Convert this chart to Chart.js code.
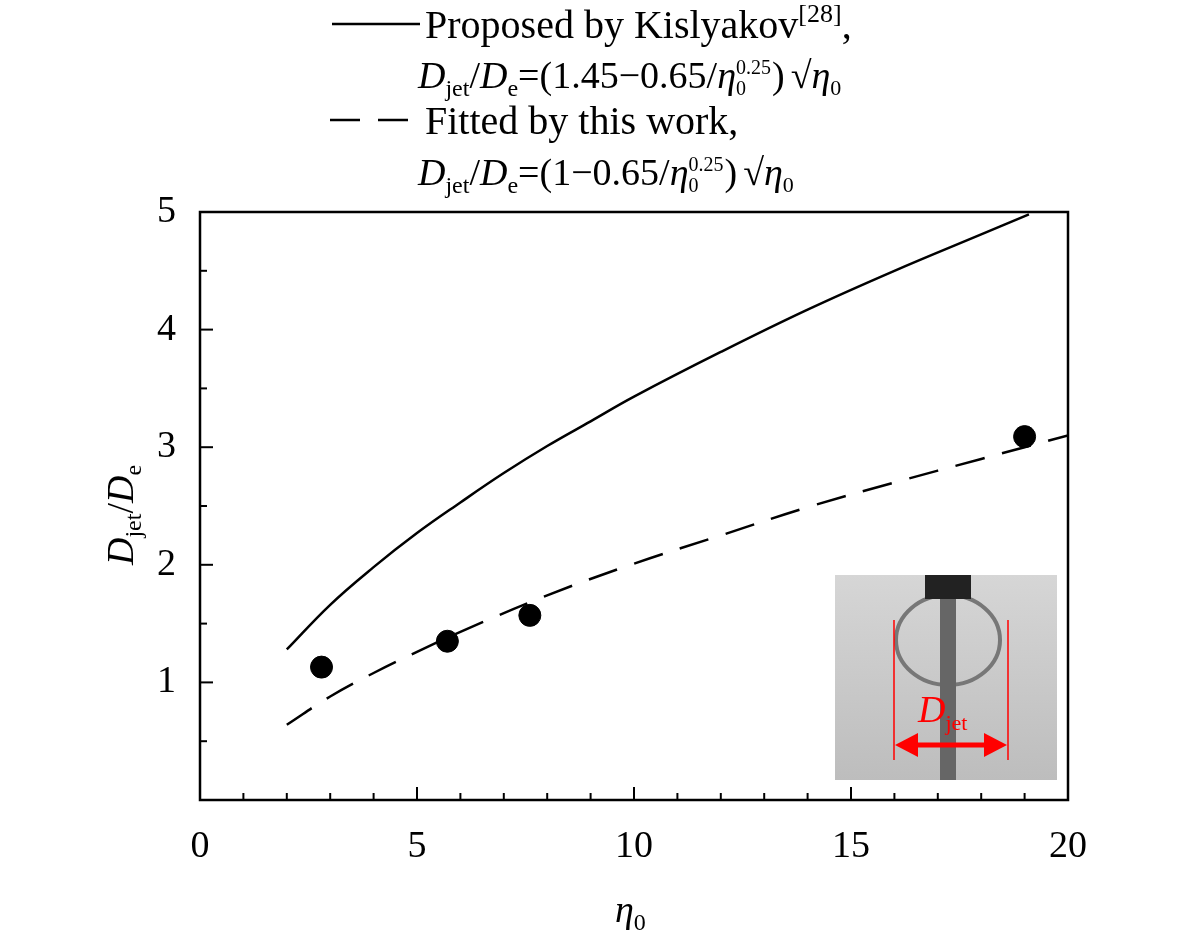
<!DOCTYPE html>
<html><head><meta charset="utf-8">
<script src="https://cdn.jsdelivr.net/npm/chart.js@4.4.0/dist/chart.umd.min.js"></script>
<style>html,body{margin:0;background:#fff}#wrap{width:1181px;height:938px}</style>
</head><body><div id="wrap"><canvas id="c"></canvas></div>
<script>
// values
const kisX = [2, 3, 4, 5, 6, 7, 8, 9, 10, 12, 14, 16, 18, 19.1];
const kisY = [1.28, 1.66, 1.98, 2.27, 2.53, 2.78, 3.01, 3.22, 3.43, 3.81, 4.17, 4.50, 4.81, 4.98];
const fitX = [2, 3, 4, 5, 6, 8, 10, 12, 14, 16, 18, 20];
const fitY = [0.64, 0.88, 1.08, 1.26, 1.43, 1.74, 2.01, 2.25, 2.49, 2.70, 2.90, 3.10];
const expX = [2.8, 5.7, 7.6, 19];
const expY = [1.13, 1.35, 1.57, 3.09];
const xTicks = [0, 5, 10, 15, 20];
const yTicks = [1, 2, 3, 4, 5];

const F = '"Liberation Serif", "DejaVu Serif", serif';
const pts = (xs, ys) => xs.map((x, i) => ({x: x, y: ys[i]}));

function sub(ctx, parts, x, y) {
  // parts: [text, size, dy, italic]
  parts.forEach(p => {
    ctx.font = (p[3] ? 'italic ' : '') + p[1] + 'px ' + F;
    ctx.fillText(p[0], x, y + p[2]);
    x += ctx.measureText(p[0]).width;
  });
  return x;
}

function formula(ctx, mid, y) {
  let x = sub(ctx, [['D', 38, 0, true], ['jet', 24, 8, false], ['/', 38, 0, false], ['D', 38, 0, true], ['e', 24, 8, false],
    [mid, 38, 0, false], ['η', 38, 0, true]], 418, y);
  sub(ctx, [['0.25', 20, -14, false]], x, y); sub(ctx, [['0', 20, 7, false]], x, y);
  x = sub(ctx, [[')', 38, 0, false]], x + 36, y);
  sub(ctx, [['√', 38, 0, false], ['η', 38, 0, true], ['0', 22, 7, false]], x + 6, y);
}

const deco = {
  id: 'deco',
  afterDraw(chart) {
    const ctx = chart.ctx, a = chart.chartArea, sx = chart.scales.x, sy = chart.scales.y;
    ctx.save();
    ctx.strokeStyle = '#000'; ctx.lineWidth = 2.5;
    ctx.strokeRect(a.left, a.top, a.right - a.left, a.bottom - a.top);
    ctx.lineWidth = 2;
    for (let v = 1; v < 20; v++) {
      const px = sx.getPixelForValue(v), len = v % 5 ? 7 : 13;
      ctx.beginPath(); ctx.moveTo(px, a.bottom); ctx.lineTo(px, a.bottom - len); ctx.stroke();
    }
    for (let v = 0.5; v < 5; v += 0.5) {
      const py = sy.getPixelForValue(v), len = v % 1 ? 7 : 13;
      ctx.beginPath(); ctx.moveTo(a.left, py); ctx.lineTo(a.left + len, py); ctx.stroke();
    }
    ctx.fillStyle = '#000'; ctx.textBaseline = 'alphabetic';
    sub(ctx, [['η', 38, 0, true], ['0', 24, 8, false]], 615, 922);
    ctx.save(); ctx.translate(133, 565); ctx.rotate(-Math.PI / 2);
    sub(ctx, [['D', 38, 0, true], ['jet', 24, 8, false], ['/', 38, 0, false], ['D', 38, 0, true], ['e', 24, 8, false]], 0, 0);
    ctx.restore();
    // legend
    ctx.lineWidth = 2.5;
    ctx.beginPath(); ctx.moveTo(332, 24); ctx.lineTo(420, 24); ctx.stroke();
    ctx.setLineDash([30, 18]);
    ctx.beginPath(); ctx.moveTo(330, 120); ctx.lineTo(420, 120); ctx.stroke();
    ctx.setLineDash([]);
    sub(ctx, [['Proposed by Kislyakov', 40, 0, false], ['[28]', 26, -16, false], [',', 40, 0, false]], 425, 38);
    formula(ctx, '=(1.45−0.65/', 88);
    sub(ctx, [['Fitted by this work,', 40, 0, false]], 425, 134);
    formula(ctx, '=(1−0.65/', 185);
    // inset (photo stand-in)
    const g = ctx.createLinearGradient(0, 575, 0, 780);
    g.addColorStop(0, '#d6d6d6'); g.addColorStop(1, '#bdbdbd');
    ctx.fillStyle = g; ctx.fillRect(835, 575, 222, 205);
    ctx.strokeStyle = '#777'; ctx.lineWidth = 4;
    ctx.beginPath(); ctx.ellipse(948, 640, 52, 45, 0, 0, Math.PI * 2); ctx.stroke();
    ctx.fillStyle = '#222'; ctx.fillRect(925, 575, 46, 24);
    ctx.fillStyle = '#666'; ctx.fillRect(940, 599, 16, 181);
    ctx.strokeStyle = '#f00'; ctx.lineWidth = 1.5;
    ctx.beginPath(); ctx.moveTo(894, 620); ctx.lineTo(894, 760); ctx.moveTo(1008, 620); ctx.lineTo(1008, 760); ctx.stroke();
    ctx.lineWidth = 5; ctx.beginPath(); ctx.moveTo(910, 745); ctx.lineTo(992, 745); ctx.stroke();
    ctx.fillStyle = '#f00';
    ctx.beginPath(); ctx.moveTo(895, 745); ctx.lineTo(918, 733); ctx.lineTo(918, 757); ctx.fill();
    ctx.beginPath(); ctx.moveTo(1007, 745); ctx.lineTo(984, 733); ctx.lineTo(984, 757); ctx.fill();
    sub(ctx, [['D', 38, 0, true], ['jet', 22, 8, false]], 918, 722);
    ctx.restore();
  }
};

new Chart(document.getElementById('c'), {
  type: 'scatter',
  data: {
    datasets: [
      { data: pts(kisX, kisY), showLine: true, borderColor: '#000', borderWidth: 2.5, pointRadius: 0, tension: 0.4 },
      { data: pts(fitX, fitY), showLine: true, borderColor: '#000', borderWidth: 2.5, borderDash: [30, 18], pointRadius: 0, tension: 0.4 },
      { data: pts(expX, expY), pointRadius: 11, backgroundColor: '#000', borderColor: '#000' }
    ]
  },
  options: {
    animation: false, responsive: true, maintainAspectRatio: false,
    layout: { padding: { left: 0, right: 113, top: 212, bottom: 0 } },
    plugins: { legend: { display: false }, tooltip: { enabled: false } },
    scales: {
      x: {
        min: 0, max: 20, grid: { display: false }, border: { display: false },
        afterBuildTicks: s => { s.ticks = xTicks.map(v => ({ value: v })); },
        ticks: { color: '#000', font: { family: F, size: 38 }, padding: 16 },
        afterFit: s => { s.height = 138; }
      },
      y: {
        min: 0, max: 5, grid: { display: false }, border: { display: false },
        afterBuildTicks: s => { s.ticks = yTicks.map(v => ({ value: v })); },
        ticks: { color: '#000', font: { family: F, size: 38 }, padding: 16 },
        afterFit: s => { s.width = 200; }
      }
    }
  },
  plugins: [deco]
});
</script></body></html>
